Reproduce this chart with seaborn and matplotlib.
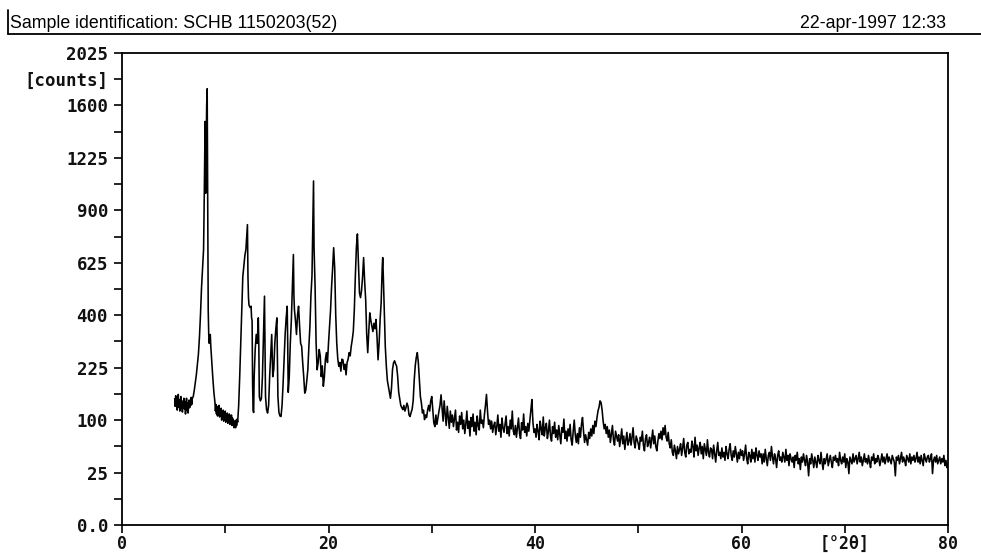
import numpy as np
import pandas as pd
import matplotlib
matplotlib.use("Agg")
import matplotlib.pyplot as plt
from matplotlib.lines import Line2D
import seaborn as sns

# ---------------- data ----------------
header_left = "Sample identification: SCHB 1150203(52)"
header_right = "22-apr-1997 12:33"

y_tick_values = [0, 25, 100, 225, 400, 625, 900, 1225, 1600, 1806.25, 2025]
y_tick_labels = ["0.0", "25", "100", "225", "400", "625", "900", "1225", "1600", "[counts]", "2025"]
y_minor_values = [6.25, 56.25, 156.25, 306.25, 506.25, 756.25, 1056.25, 1406.25]
x_tick_values = [0, 10, 20, 30, 40, 50, 60, 70, 80]
x_tick_labels = ["0", "", "20", "", "40", "", "60", "[°2θ]", "80"]

# low-angle part of the scan (2theta, counts)
low_tt = [5.1, 5.15, 5.2, 5.25, 5.3, 5.35, 5.4, 5.45, 5.5, 5.55, 5.6, 5.65, 5.7, 5.75, 5.8, 5.85, 5.9,
          5.95, 6.0, 6.05, 6.1, 6.15, 6.2, 6.25, 6.3, 6.35, 6.4, 6.45, 6.5, 6.55, 6.6, 6.65, 6.7, 6.75,
          6.8, 6.9,
          7.0, 7.1, 7.2, 7.3, 7.4, 7.5, 7.6, 7.7, 7.8, 7.9, 7.95, 8.0, 8.05, 8.1, 8.15, 8.2, 8.25, 8.3,
          8.35, 8.4, 8.45, 8.5, 8.55, 8.6, 8.7, 8.8, 8.9, 9.0, 9.05, 9.1, 9.15, 9.2, 9.25, 9.3, 9.35,
          9.4, 9.45, 9.5, 9.55, 9.6, 9.65, 9.7, 9.75, 9.8, 9.85, 9.9, 9.95, 10.0, 10.05, 10.1, 10.15,
          10.2, 10.25, 10.3, 10.35, 10.4, 10.45, 10.5, 10.55, 10.6, 10.65, 10.7, 10.75, 10.8, 10.85,
          10.9, 10.95, 11.0, 11.05, 11.1, 11.15, 11.2, 11.3, 11.4,
          11.5, 11.6, 11.7, 11.8, 11.9, 12.0, 12.1, 12.15, 12.2, 12.25, 12.3, 12.4, 12.5, 12.55, 12.6,
          12.65, 12.7, 12.75, 12.8, 12.9, 13.0, 13.1, 13.2, 13.25, 13.3, 13.4, 13.5, 13.6, 13.7, 13.8,
          13.85, 13.9, 14.0, 14.1, 14.2, 14.3, 14.4, 14.5, 14.55, 14.6, 14.7, 14.8, 14.9, 15.0, 15.05,
          15.1, 15.2, 15.3, 15.4, 15.5, 15.6, 15.7, 15.8, 15.9, 16.0, 16.05, 16.1, 16.2, 16.3, 16.4,
          16.5, 16.6, 16.65, 16.7, 16.8, 16.9, 17.0, 17.1, 17.2, 17.3, 17.4, 17.5, 17.6, 17.7, 17.8,
          17.9, 18.0, 18.1, 18.2, 18.3, 18.4, 18.5, 18.55, 18.6, 18.7, 18.8, 18.9, 19.0, 19.1, 19.2,
          19.3, 19.4, 19.5, 19.6, 19.7, 19.8, 19.9, 20.0, 20.1, 20.2, 20.3, 20.4, 20.5, 20.6, 20.7,
          20.8, 20.9, 21.0, 21.1, 21.2, 21.3, 21.4, 21.5, 21.6, 21.7, 21.8, 21.9, 22.0, 22.1, 22.2,
          22.3, 22.4, 22.5, 22.6, 22.7, 22.8, 22.9, 23.0, 23.1, 23.2, 23.3, 23.4, 23.5, 23.6, 23.7,
          23.8, 23.9, 24.0, 24.1, 24.2, 24.3, 24.4, 24.5, 24.6, 24.7, 24.8, 24.9, 25.0, 25.1, 25.2,
          25.25, 25.3, 25.4, 25.5, 25.6, 25.7, 25.8, 25.9, 26.0, 26.1, 26.2, 26.3, 26.4, 26.5, 26.6,
          26.7, 26.8, 27.0, 27.1, 27.2, 27.3, 27.4, 27.5, 27.6, 27.7, 27.8, 27.9, 28.0, 28.1, 28.2,
          28.3, 28.4, 28.5, 28.6, 28.7, 28.8, 28.9, 29.0, 29.1, 29.2, 29.3, 29.4, 29.5, 29.6, 29.7,
          29.8, 29.9, 30.0]
low_counts = [145, 128, 152, 135, 148, 120, 140, 155, 126, 142, 118, 136, 150, 124, 138, 116, 140,
              130, 146, 122, 138, 112, 132, 146, 120, 136, 114, 130, 142, 125, 140, 130, 148, 132,
              145, 150,
              165, 185, 205, 235, 265, 320, 400, 510, 600, 690, 900, 1200, 1480, 1000, 1300, 1600, 1730, 900,
              420, 330, 300, 320, 330, 290, 240, 195, 160, 137, 118, 132, 112, 128, 108, 124, 114,
              130, 106, 120, 110, 124, 100, 116, 108, 120, 98, 112, 104, 118, 96, 110, 100,
              114, 94, 108, 100, 112, 92, 106, 96, 110, 90, 104, 94, 100, 86,
              92, 98, 86, 100, 90, 102, 96, 130, 200,
              300, 420, 560, 610, 660, 690, 780, 820, 560, 470, 440, 430, 435, 390, 380,
              180, 120, 115, 200, 280, 330, 300, 390, 300, 150, 140, 145, 200, 320, 476,
              300, 150, 121, 114, 130, 200, 260, 330, 260, 200, 220, 300, 350, 390, 250,
              150, 115, 108, 107, 130, 180, 250, 330, 390, 435, 300, 160, 200, 300, 380,
              520, 665, 480, 422, 380, 330, 400, 435, 360, 300, 290, 240, 200, 158, 165,
              190, 220, 290, 359, 480, 563, 900, 1076, 700, 518, 300, 219, 240, 280, 260,
              200, 230, 175, 200, 250, 270, 240, 300, 359, 420, 518, 600, 699, 600, 400,
              300, 250, 229, 240, 215, 250, 248, 220, 235, 205, 240, 250, 270, 260, 290,
              312, 340, 420, 563, 700, 770, 620, 490, 470, 500, 560, 650, 540, 462, 330,
              270, 340, 409, 380, 359, 340, 370, 350, 384, 320, 248, 300, 384, 450, 600,
              650, 578, 420, 290, 230, 190, 175, 160, 146, 170, 220, 239, 245, 236, 229,
              200, 160, 130, 125, 121, 130, 118, 125, 135, 128, 110, 107, 115, 122, 140,
              190, 230, 255, 270, 240, 192, 150, 135, 114, 120, 101, 110, 105, 120, 130,
              118, 140, 150]

# high-angle part of the scan: 0.1 deg steps from 30.1 to 80.0
scan_start = 30.1
scan_step = 0.1
high_counts = [
    120, 95, 88, 110, 92, 105, 118, 130, 154, 125,
    98, 140, 112, 90, 128, 105, 85, 118, 96, 110,
    88, 104, 120, 82, 96, 78, 108, 92, 115, 84,
    100, 76, 92, 118, 85, 98, 72, 105, 88, 112,
    80, 96, 74, 108, 90, 82, 120, 94, 100, 86,
    110, 130, 155, 118, 92, 100, 84, 98, 78, 90,
    96, 74, 88, 110, 80, 92, 70, 104, 86, 78,
    92, 108, 76, 88, 72, 100, 84, 118, 80, 74,
    90, 70, 86, 104, 76, 68, 95, 82, 112, 78,
    88, 72, 94, 80, 100, 120, 143, 96, 78, 84,
    70, 92, 80, 66, 98, 84, 74, 106, 72, 86,
    94, 68, 80, 100, 72, 64, 88, 76, 96, 70,
    82, 66, 90, 74, 60, 86, 78, 102, 68, 80,
    64, 84, 72, 92, 66, 58, 80, 100, 74, 62,
    76, 60, 86, 70, 92, 105, 80, 62, 74, 66,
    58, 78, 68, 84, 72, 90, 76, 98, 88, 104,
    118, 126, 140, 136, 120, 98, 84, 92, 76, 88,
    70, 82, 62, 76, 90, 66, 58, 80, 72, 64,
    74, 56, 68, 84, 60, 72, 52, 66, 78, 58,
    64, 76, 58, 70, 86, 62, 54, 72, 66, 60,
    52, 70, 64, 80, 58, 50, 68, 74, 56, 62,
    70, 54, 66, 82, 60, 72, 56, 50, 64, 76,
    68, 80, 66, 86, 74, 90, 70, 64, 78, 60,
    54, 66, 48, 44, 58, 50, 40, 56, 46, 52,
    60, 44, 54, 68, 48, 42, 58, 62, 46, 52,
    48, 64, 56, 42, 70, 50, 58, 44, 54, 62,
    46, 56, 40, 60, 52, 44, 66, 48, 42, 54,
    52, 40, 58, 46, 36, 50, 62, 44, 48, 40,
    54, 42, 48, 38, 56, 46, 40, 52, 60, 44,
    38, 50, 42, 56, 46, 36, 48, 40, 52, 44,
    50, 38, 46, 58, 40, 34, 48, 44, 36, 52,
    40, 48, 36, 54, 44, 38, 50, 42, 46, 34,
    46, 36, 52, 40, 32, 44, 48, 38, 56, 42,
    34, 46, 40, 30, 44, 50, 38, 42, 36, 48,
    42, 36, 52, 38, 44, 32, 46, 40, 36, 42,
    30, 44, 38, 48, 34, 40, 28, 42, 36, 46,
    38, 32, 44, 36, 22, 40, 34, 46, 38, 30,
    42, 36, 30, 44, 38, 34, 48, 36, 28, 40,
    34, 40, 46, 32, 38, 44, 36, 30, 42, 38,
    44, 36, 40, 32, 48, 38, 34, 42, 36, 46,
    30, 40, 36, 24, 42, 38, 34, 46, 36, 40,
    44, 34, 40, 48, 36, 42, 32, 38, 46, 36,
    40, 34, 44, 36, 30, 42, 38, 46, 34, 40,
    36, 44, 40, 32, 38, 46, 36, 42, 34, 40,
    46, 36, 42, 38, 34, 44, 40, 36, 22, 42,
    38, 44, 34, 40, 48, 36, 42, 38, 32, 44,
    40, 36, 46, 34, 42, 38, 44, 36, 40, 48,
    36, 42, 34, 44, 38, 32, 46, 40, 36, 42,
    44, 36, 40, 46, 24, 38, 42, 36, 44, 34,
    38, 42, 34, 40, 36, 44, 32, 38, 30, 34,
]

high_tt = [round(scan_start + i * scan_step, 2) for i in range(len(high_counts))]
df = pd.DataFrame({"two_theta": list(low_tt) + high_tt,
                   "counts": list(low_counts) + high_counts})

# ---------------- plot ----------------
sns.set_style("ticks")
plt.rcParams["font.family"] = ["DejaVu Sans Mono", "DejaVu Sans"]

fig = plt.figure(figsize=(9.81, 5.53), dpi=100)
ax = fig.add_axes([122 / 981, 1 - 525 / 553, (948 - 122) / 981, (525 - 53) / 553])

ax.set_yscale("function", functions=(lambda v: np.sqrt(np.clip(v, 0, None)), lambda v: np.square(v)))

sns.lineplot(data=df, x="two_theta", y="counts", ax=ax, color="black",
             linewidth=1.15, estimator=None, sort=False)

ax.set_xlim(0, 80)
ax.set_ylim(0, 2025)
ax.set_xlabel("")
ax.set_ylabel("")

ax.set_yticks(y_tick_values)
ax.set_yticklabels(y_tick_labels)
ax.set_yticks(y_minor_values, minor=True)
ax.set_xticks(x_tick_values)
ax.set_xticklabels(x_tick_labels)
ax.xaxis.set_minor_locator(matplotlib.ticker.NullLocator())

ax.tick_params(axis="both", which="both", direction="out", color="black", width=1.2,
               left=True, bottom=True, right=False, top=False)
ax.tick_params(axis="y", which="major", length=6, pad=4, labelsize=12.5)
ax.tick_params(axis="y", which="minor", length=6)
ax.tick_params(axis="x", which="major", length=6, pad=1, labelsize=12)
for lab in ax.get_xticklabels() + ax.get_yticklabels():
    lab.set_fontweight("bold")
    lab.set_color("#111111")

for sp in ax.spines.values():
    sp.set_visible(True)
    sp.set_color("black")
    sp.set_linewidth(1.3)

# header
fig.text(10 / 981, 1 - 28 / 553, header_left, ha="left", va="baseline",
         fontsize=12.8, family=["Liberation Sans", "DejaVu Sans"], color="black")
fig.text(946 / 981, 1 - 28 / 553, header_right, ha="right", va="baseline",
         fontsize=12.8, family=["Liberation Sans", "DejaVu Sans"], color="black")
fig.add_artist(Line2D([8 / 981, 1.0], [1 - 34 / 553, 1 - 34 / 553],
                      transform=fig.transFigure, color="black", lw=1.3))
fig.add_artist(Line2D([8 / 981, 8 / 981], [1 - 10 / 553, 1 - 34 / 553],
                      transform=fig.transFigure, color="black", lw=1.3))

fig.savefig("out.png", dpi=100, facecolor="white")
